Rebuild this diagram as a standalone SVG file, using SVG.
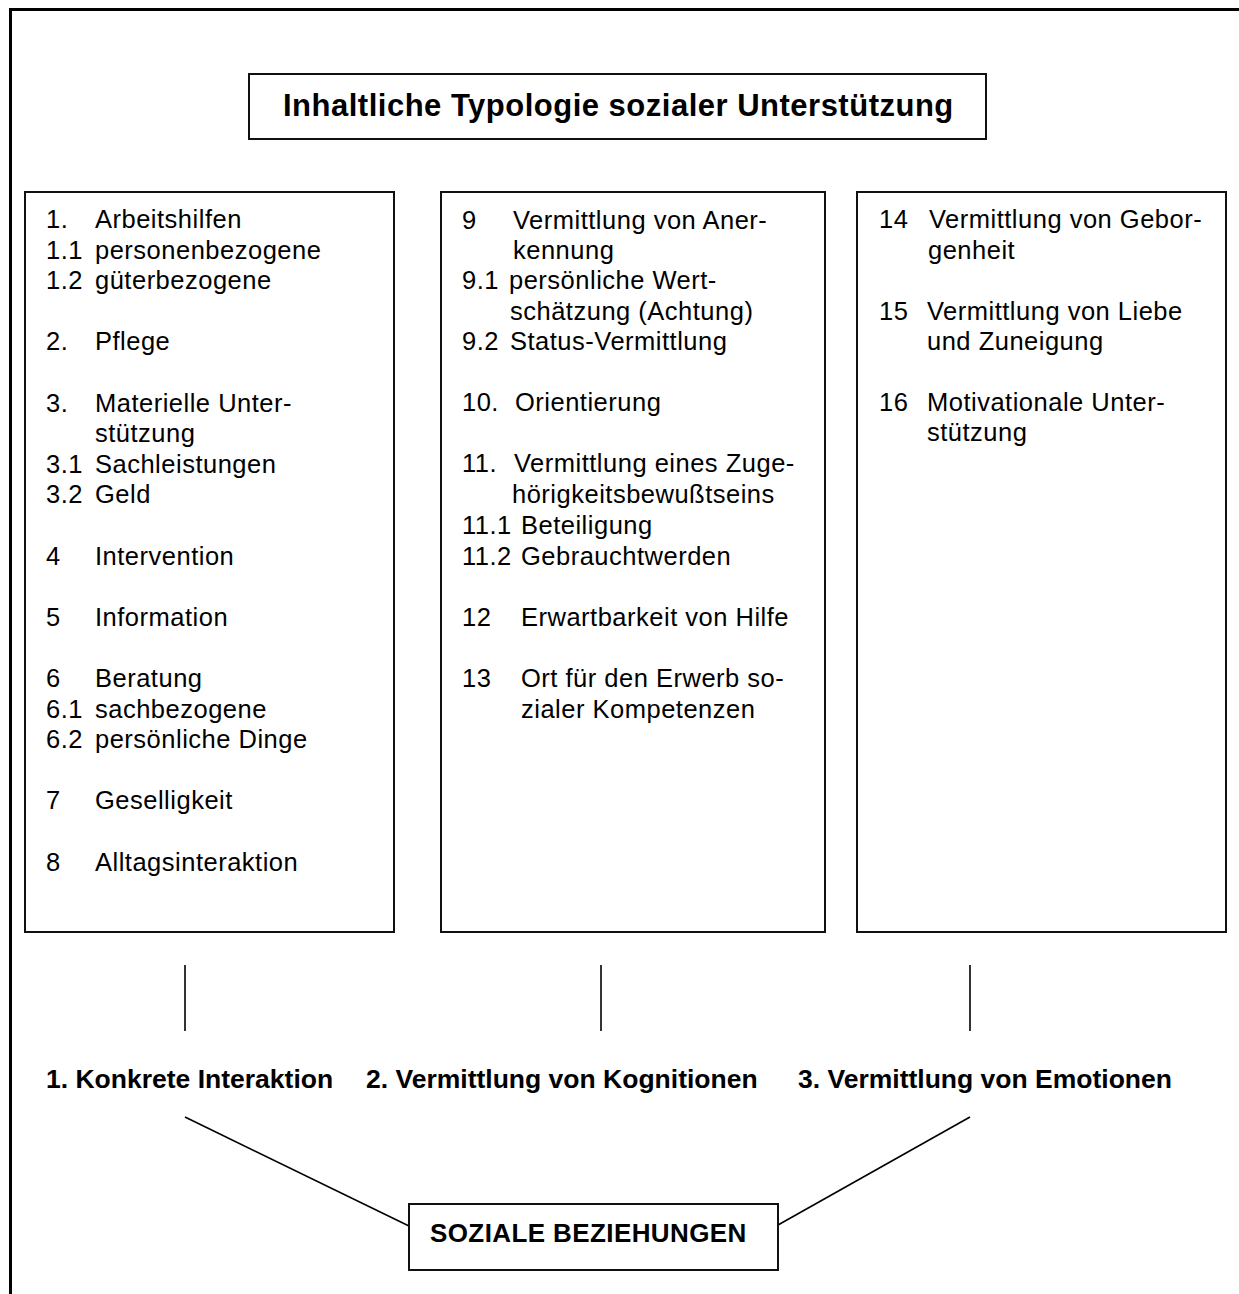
<svg xmlns="http://www.w3.org/2000/svg" width="1239" height="1294" viewBox="0 0 1239 1294">
<style>
.bg{fill:#fff}
.frame{fill:none;stroke:#000;stroke-width:3}
.box{fill:#fff;stroke:#111;stroke-width:2}
.ln{fill:none;stroke:#000;stroke-width:1.6}
text{font-family:"Liberation Sans",Arial,Helvetica,sans-serif;fill:#000}
.t{font-size:25.5px;letter-spacing:0.5px}
.title{font-size:31px;font-weight:bold;letter-spacing:0.5px}
.lab{font-size:26.5px;font-weight:bold}
.soz{font-size:26px;font-weight:bold;letter-spacing:0.4px}
</style>
<rect class="bg" x="0" y="0" width="1239" height="1294"/>
<path class="frame" d="M10.5,1294 V9.5 H1239"/>

<g id="title">
<rect class="box" x="249" y="74" width="737" height="65"/>
<text class="title" x="283" y="116">Inhaltliche Typologie sozialer Unterstützung</text>
</g>

<g id="col1">
<rect class="box" x="25" y="192" width="369" height="740"/>
<text class="t" x="46" y="228">1.</text><text class="t" x="95" y="228">Arbeitshilfen</text>
<text class="t" x="46" y="258.6">1.1</text><text class="t" x="95" y="258.6">personenbezogene</text>
<text class="t" x="46" y="289.2">1.2</text><text class="t" x="95" y="289.2">güterbezogene</text>
<text class="t" x="46" y="350.4">2.</text><text class="t" x="95" y="350.4">Pflege</text>
<text class="t" x="46" y="411.6">3.</text><text class="t" x="95" y="411.6">Materielle Unter-</text>
<text class="t" x="95" y="442.2">stützung</text>
<text class="t" x="46" y="472.8">3.1</text><text class="t" x="95" y="472.8">Sachleistungen</text>
<text class="t" x="46" y="503.4">3.2</text><text class="t" x="95" y="503.4">Geld</text>
<text class="t" x="46" y="564.6">4</text><text class="t" x="95" y="564.6">Intervention</text>
<text class="t" x="46" y="625.8">5</text><text class="t" x="95" y="625.8">Information</text>
<text class="t" x="46" y="687">6</text><text class="t" x="95" y="687">Beratung</text>
<text class="t" x="46" y="717.6">6.1</text><text class="t" x="95" y="717.6">sachbezogene</text>
<text class="t" x="46" y="748.2">6.2</text><text class="t" x="95" y="748.2">persönliche Dinge</text>
<text class="t" x="46" y="809.4">7</text><text class="t" x="95" y="809.4">Geselligkeit</text>
<text class="t" x="46" y="870.6">8</text><text class="t" x="95" y="870.6">Alltagsinteraktion</text>
</g>

<g id="col2">
<rect class="box" x="441" y="192" width="384" height="740"/>
<text class="t" x="462" y="228.6">9</text><text class="t" x="513" y="228.6">Vermittlung von Aner-</text>
<text class="t" x="513" y="259">kennung</text>
<text class="t" x="462" y="289.4">9.1</text><text class="t" x="509" y="289.4">persönliche Wert-</text>
<text class="t" x="510" y="319.8">schätzung (Achtung)</text>
<text class="t" x="462" y="350.4">9.2</text><text class="t" x="510" y="350.4">Status-Vermittlung</text>
<text class="t" x="462" y="411">10.</text><text class="t" x="515" y="411">Orientierung</text>
<text class="t" x="462" y="472.4">11.</text><text class="t" x="514" y="472.4">Vermittlung eines Zuge-</text>
<text class="t" x="512" y="503">hörigkeitsbewußtseins</text>
<text class="t" x="462" y="534">11.1</text><text class="t" x="521" y="534">Beteiligung</text>
<text class="t" x="462" y="564.6">11.2</text><text class="t" x="521" y="564.6">Gebrauchtwerden</text>
<text class="t" x="462" y="626">12</text><text class="t" x="521" y="626">Erwartbarkeit von Hilfe</text>
<text class="t" x="462" y="687">13</text><text class="t" x="521" y="687">Ort für den Erwerb so-</text>
<text class="t" x="521" y="717.6">zialer Kompetenzen</text>
</g>

<g id="col3">
<rect class="box" x="857" y="192" width="369" height="740"/>
<text class="t" x="879" y="228.4">14</text><text class="t" x="929" y="228.4">Vermittlung von Gebor-</text>
<text class="t" x="928" y="259">genheit</text>
<text class="t" x="879" y="319.6">15</text><text class="t" x="927" y="319.6">Vermittlung von Liebe</text>
<text class="t" x="927" y="350">und Zuneigung</text>
<text class="t" x="879" y="410.8">16</text><text class="t" x="927" y="410.8">Motivationale Unter-</text>
<text class="t" x="927" y="441.4">stützung</text>
</g>

<g id="connectors">
<line class="ln" x1="185" y1="965" x2="185" y2="1031"/>
<line class="ln" x1="601" y1="965" x2="601" y2="1031"/>
<line class="ln" x1="970" y1="965" x2="970" y2="1031"/>
<line class="ln" x1="185" y1="1117" x2="409" y2="1226"/>
<line class="ln" x1="970" y1="1117" x2="778" y2="1225"/>
</g>

<g id="label1"><text class="lab" x="46" y="1088">1. Konkrete Interaktion</text></g>
<g id="label2"><text class="lab" x="366" y="1088">2. Vermittlung von Kognitionen</text></g>
<g id="label3"><text class="lab" x="798" y="1088">3. Vermittlung von Emotionen</text></g>

<g id="soziale">
<rect class="box" x="409" y="1204" width="369" height="66"/>
<text class="soz" x="430" y="1242">SOZIALE BEZIEHUNGEN</text>
</g>
</svg>
